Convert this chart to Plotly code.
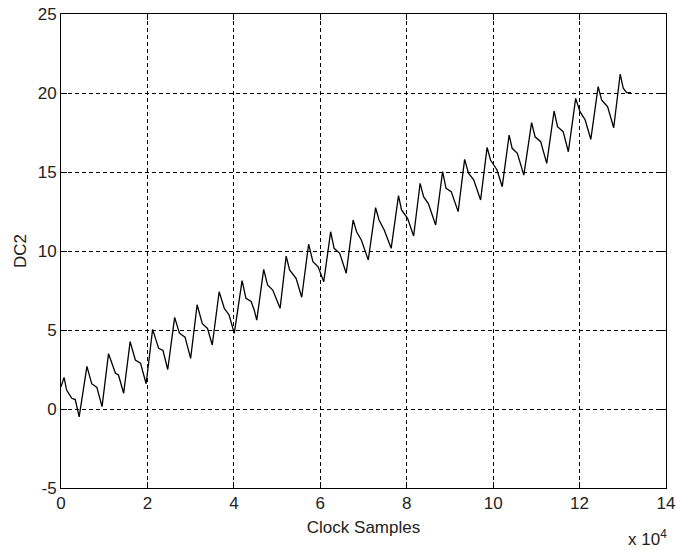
import plotly.graph_objects as go

# Clock samples (in units of 1e4) and DC2 values
x_samples_1e4 = [
    0.00, 0.07, 0.13, 0.25, 0.33, 0.42,
    0.60, 0.71, 0.83, 0.95,
    1.10, 1.26, 1.33, 1.45,
    1.60, 1.72, 1.84, 1.97,
    2.12, 2.26, 2.36, 2.47,
    2.63, 2.74, 2.87, 3.00,
    3.15, 3.27, 3.39, 3.50,
    3.66, 3.78, 3.89, 4.01,
    4.19, 4.28, 4.40, 4.47, 4.53,
    4.69, 4.78, 4.90, 5.07,
    5.21, 5.29, 5.44, 5.57,
    5.73, 5.83, 5.95, 6.08,
    6.24, 6.32, 6.45, 6.60,
    6.76, 6.84, 6.95, 7.11,
    7.28, 7.36, 7.48, 7.64,
    7.81, 7.88, 8.02, 8.16,
    8.31, 8.39, 8.50, 8.67,
    8.83, 8.91, 9.03, 9.19,
    9.34, 9.43, 9.55, 9.71,
    9.86, 9.94, 10.09, 10.21,
    10.37, 10.44, 10.56, 10.71,
    10.89, 10.97, 11.10, 11.24,
    11.41, 11.49, 11.62, 11.74,
    11.91, 12.01, 12.13, 12.26,
    12.43, 12.51, 12.65, 12.79,
    12.94, 13.01, 13.09, 13.19,
]
dc2_values = [
    1.40, 2.00, 1.20, 0.68, 0.60, -0.50,
    2.70, 1.60, 1.37, 0.15,
    3.50, 2.26, 2.15, 1.00,
    4.26, 3.10, 2.90, 1.60,
    5.04, 3.84, 3.70, 2.50,
    5.80, 4.80, 4.55, 3.20,
    6.60, 5.40, 5.10, 4.05,
    7.42, 6.37, 5.95, 4.79,
    8.12, 7.00, 6.80, 6.27, 5.63,
    8.84, 7.85, 7.53, 6.37,
    9.68, 8.80, 8.27, 7.07,
    10.43, 9.32, 9.00, 8.06,
    11.22, 10.17, 9.85, 8.59,
    11.96, 11.22, 10.70, 9.43,
    12.74, 11.96, 11.33, 10.17,
    13.50, 12.60, 12.07, 10.95,
    14.28, 13.44, 13.00, 11.65,
    15.02, 13.97, 13.76, 12.49,
    15.80, 14.92, 14.50, 13.23,
    16.56, 15.76, 15.13, 14.07,
    17.34, 16.50, 16.18, 14.80,
    18.12, 17.23, 16.92, 15.55,
    18.86, 17.87, 17.55, 16.28,
    19.66, 18.82, 18.29, 17.07,
    20.40, 19.56, 19.13, 17.80,
    21.20, 20.30, 20.02, 20.02,
]

x_ticks = [0, 2, 4, 6, 8, 10, 12, 14]
y_ticks = [-5, 0, 5, 10, 15, 20, 25]

FONT = "Liberation Sans, Arial, sans-serif"
TXT = "#222222"

fig = go.Figure()
fig.add_trace(go.Scatter(
    x=x_samples_1e4, y=dc2_values, mode="lines",
    line=dict(color="black", width=1.3), showlegend=False,
))

axis_common = dict(
    showline=True, linecolor="black", linewidth=1, mirror="ticks",
    ticks="inside", ticklen=6, tickcolor="black",
    showgrid=True, gridcolor="black", gridwidth=1, griddash="4px,3px",
    zeroline=False, tickfont=dict(family=FONT, size=17, color=TXT),
    automargin=False,
)

fig.update_xaxes(
    range=[0, 14], tickvals=x_ticks, ticktext=[str(v) for v in x_ticks],
    title=dict(text="Clock Samples", font=dict(family=FONT, size=17, color=TXT), standoff=8),
    **axis_common,
)
fig.update_yaxes(
    range=[-5, 25], tickvals=y_ticks, ticktext=[str(v) for v in y_ticks],
    title=dict(text="DC2", font=dict(family=FONT, size=17, color=TXT), standoff=6),
    **axis_common,
)

fig.add_annotation(
    text="x 10<sup>4</sup>", xref="paper", yref="paper", x=1.005, y=-0.105,
    xanchor="right", yanchor="middle", showarrow=False,
    font=dict(family=FONT, size=17, color=TXT),
)

fig.update_layout(
    width=676, height=552,
    margin=dict(l=61, r=10, t=14, b=64),
    paper_bgcolor="white", plot_bgcolor="white",
)

fig.write_html("out.html")
